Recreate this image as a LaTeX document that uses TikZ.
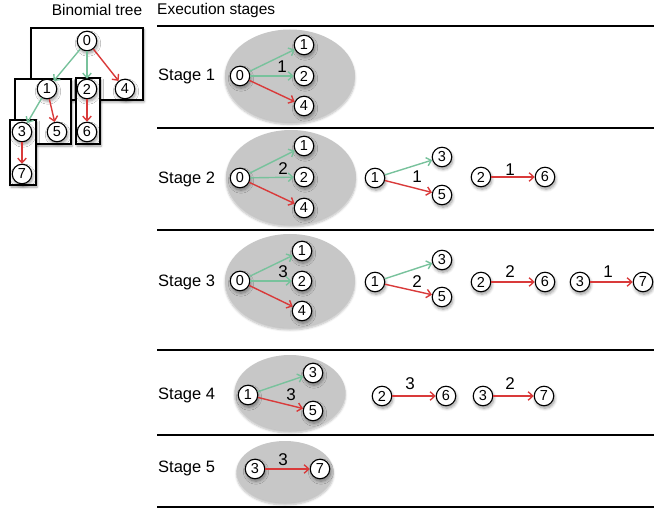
\documentclass[tikz,border=0pt]{standalone}
\usepackage{fontspec}
\setmainfont{Liberation Sans}
\usetikzlibrary{shapes.geometric,shadows.blur,arrows.meta}
\definecolor{tgreen}{HTML}{78C29C}
\definecolor{tred}{HTML}{D93A3A}
\tikzset{
  v/.style={circle,draw=black,line width=1.1pt,fill=white,minimum size=19.5pt,inner sep=0pt,
    font=\fontsize{14.5}{14.5}\selectfont,
    blur shadow={shadow xshift=1pt,shadow yshift=-2.5pt,shadow blur steps=6,shadow blur radius=3pt}},
  grp/.style={ellipse,fill=black!22,inner sep=0pt,
    blur shadow={shadow xshift=0pt,shadow yshift=-2pt,shadow blur steps=6,shadow opacity=25}},
  ga/.style={draw=tgreen,line width=1.4pt,-{Straight Barb[length=4.5pt,width=8.5pt]}},
  ra/.style={draw=tred,line width=1.4pt,-{Straight Barb[length=4.5pt,width=8.5pt]}},
  elab/.style={font=\fontsize{17}{17}\selectfont,inner sep=0pt},
  stl/.style={font=\fontsize{16.5}{16.5}\selectfont,anchor=west,inner sep=0pt},
  hdr/.style={font=\fontsize{15.5}{15.5}\selectfont,inner sep=0pt},
  sep/.style={line width=2pt},
  tbox/.style={draw=black,line width=1.5pt,fill=white,
    blur shadow={shadow xshift=1pt,shadow yshift=-2pt,shadow blur steps=5,shadow blur radius=2.5pt}},
}
\begin{document}
\begin{tikzpicture}[x=1pt,y=-1pt]
\useasboundingbox (0,0) rectangle (654,508);
% headers
\node[hdr] (h1) at (97,10) {Binomial tree};
\node[hdr,anchor=west] (h2) at (157,10) {Execution stages};
% separators
\foreach \yy/\nm in {26/a,128/b,230/c,350/d,435/e,506.5/f}{
  \coordinate (L\nm) at (157,\yy); \coordinate (R\nm) at (654,\yy);
  \draw[sep] (L\nm) -- (R\nm);}
% ---------------- binomial tree
\draw[tbox] (31,28) rectangle (143,100);
\draw[tbox] (15,79) rectangle (71,144);
\draw[tbox] (76,78) rectangle (100,144);
\draw[tbox] (10,120) rectangle (36,185);
\node[v] (t0) at (87,41) {0};
\node[v] (t1) at (47,89) {1};
\node[v] (t2) at (87,89) {2};
\node[v] (t4) at (125,89) {4};
\node[v] (t3) at (22,132) {3};
\node[v] (t5) at (57,132) {5};
\node[v] (t6) at (87,132) {6};
\node[v] (t7) at (22,174) {7};
\draw[ga] (t0) -- (t1);
\draw[ga] (t0) -- (t2);
\draw[ra] (t0) -- (t4);
\draw[ga] (t1) -- (t3);
\draw[ra] (t1) -- (t5);
\draw[ra] (t2) -- (t6);
\draw[ra] (t3) -- (t7);
% ---------------- Stage 1
\node[stl] (st1) at (158,76) {Stage 1};
\node[grp,minimum width=130pt,minimum height=93pt] (g1) at (290,76) {};
\node[v] (a0) at (240,76) {0};
\node[v] (a1) at (304,45) {1};
\node[v] (a2) at (304,76) {2};
\node[v] (a4) at (304,106) {4};
\draw[ga] (a0) -- (a1);
\draw[ga] (a0) -- (a2);
\draw[ra] (a0) -- (a4);
\node[elab] (la) at (282,67) {1};
% ---------------- Stage 2
\node[stl] (st2) at (158,179) {Stage 2};
\node[grp,minimum width=130pt,minimum height=95pt] (g2) at (291,177.5) {};
\node[v] (b0) at (240,178) {0};
\node[v] (b1) at (304,146) {1};
\node[v] (b2) at (304,177) {2};
\node[v] (b4) at (304,208) {4};
\draw[ga] (b0) -- (b1);
\draw[ga] (b0) -- (b2);
\draw[ra] (b0) -- (b4);
\node[elab] (lb) at (283,169) {2};
\node[v] (c1) at (375,178) {1};
\node[v] (c3) at (442,157) {3};
\node[v] (c5) at (442,195) {5};
\draw[ga] (c1) -- (c3);
\draw[ra] (c1) -- (c5);
\node[elab] (lc) at (417,177) {1};
\node[v] (d2) at (481,177) {2};
\node[v] (d6) at (545,177) {6};
\draw[ra] (d2) -- (d6);
\node[elab] (ld) at (510,170) {1};
% ---------------- Stage 3
\node[stl] (st3) at (158,282) {Stage 3};
\node[grp,minimum width=130pt,minimum height=94pt] (g3) at (290,281) {};
\node[v] (e0) at (240,281) {0};
\node[v] (e1) at (302,251) {1};
\node[v] (e2) at (302,281) {2};
\node[v] (e4) at (302,311) {4};
\draw[ga] (e0) -- (e1);
\draw[ga] (e0) -- (e2);
\draw[ra] (e0) -- (e4);
\node[elab] (le) at (283,272) {3};
\node[v] (f1) at (375,282) {1};
\node[v] (f3) at (442,260) {3};
\node[v] (f5) at (442,297) {5};
\draw[ga] (f1) -- (f3);
\draw[ra] (f1) -- (f5);
\node[elab] (lf) at (417,282) {2};
\node[v] (g2n) at (481,282) {2};
\node[v] (g6) at (545,282) {6};
\draw[ra] (g2n) -- (g6);
\node[elab] (lg) at (510,272) {2};
\node[v] (h3) at (580,282) {3};
\node[v] (h7) at (643,282) {7};
\draw[ra] (h3) -- (h7);
\node[elab] (lh) at (608,272) {1};
% ---------------- Stage 4
\node[stl] (st4) at (158,395) {Stage 4};
\node[grp,minimum width=111pt,minimum height=76pt] (g4) at (290,393) {};
\node[v] (i1) at (248,395) {1};
\node[v] (i3) at (313,373) {3};
\node[v] (i5) at (313,411) {5};
\draw[ga] (i1) -- (i3);
\draw[ra] (i1) -- (i5);
\node[elab] (li) at (291,395) {3};
\node[v] (j2) at (382,396) {2};
\node[v] (j6) at (446,396) {6};
\draw[ra] (j2) -- (j6);
\node[elab] (lj) at (410,384) {3};
\node[v] (k3) at (483,396) {3};
\node[v] (k7) at (544,396) {7};
\draw[ra] (k3) -- (k7);
\node[elab] (lk) at (510,384) {2};
% ---------------- Stage 5
\node[stl] (st5) at (158,468) {Stage 5};
\node[grp,minimum width=97pt,minimum height=62pt] (g5) at (285,472) {};
\node[v] (m3) at (255,469) {3};
\node[v] (m7) at (320,469) {7};
\draw[ra] (m3) -- (m7);
\node[elab] (lm) at (283,460) {3};
\end{tikzpicture}
\end{document}
